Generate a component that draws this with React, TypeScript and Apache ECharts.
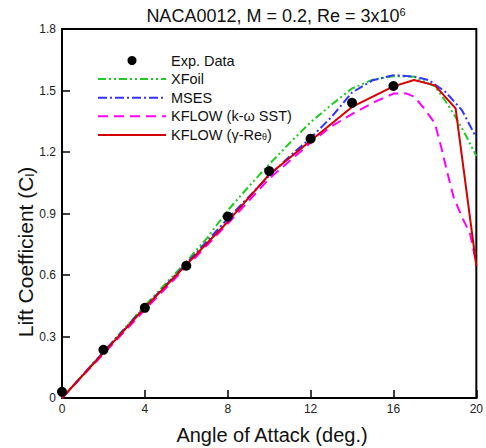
import React, { useEffect, useRef } from "react";
import * as echarts from "echarts";

const alphaExp = [0, 2, 4, 6, 8, 10, 12, 14, 16];
const clExp = [0.03, 0.235, 0.44, 0.645, 0.885, 1.107, 1.265, 1.44, 1.522];

const alphaXfoil = [0, 2, 4, 6, 7, 8, 9, 10, 11, 12, 13, 14, 15, 16, 17, 18, 18.5, 19, 19.5, 20];
const clXfoil = [0, 0.225, 0.45, 0.665, 0.78, 0.915, 1.03, 1.14, 1.245, 1.345, 1.43, 1.51, 1.553, 1.57, 1.567, 1.52, 1.45, 1.37, 1.28, 1.18];

const alphaMses = [0, 2, 4, 6, 8, 9, 10, 11, 12, 13, 14, 15, 16, 17, 17.7, 18.5, 19.3, 20];
const clMses = [0, 0.225, 0.445, 0.655, 0.875, 0.98, 1.085, 1.18, 1.268, 1.37, 1.49, 1.55, 1.575, 1.568, 1.551, 1.494, 1.405, 1.27];

const alphaSst = [0, 2, 4, 6, 8, 10, 12, 13, 14, 15, 16, 16.6, 17, 17.5, 18, 18.3, 18.6, 18.9, 19.3, 19.7, 20];
const clSst = [0, 0.215, 0.43, 0.64, 0.85, 1.07, 1.245, 1.325, 1.385, 1.44, 1.485, 1.486, 1.47, 1.41, 1.34, 1.226, 1.1, 0.98, 0.884, 0.8, 0.655];

const alphaGamma = [0, 2, 4, 6, 8, 10, 12, 14, 16, 17, 18, 19, 20];
const clGamma = [0, 0.22, 0.44, 0.65, 0.86, 1.09, 1.255, 1.42, 1.52, 1.551, 1.525, 1.413, 0.645];

const xTicks = ["0", "4", "8", "12", "16", "20"];
const yTicks = ["0", "0.3", "0.6", "0.9", "1.2", "1.5", "1.8"];

const seriesNames = ["Exp. Data", "XFoil", "MSES", "KFLOW (k-ω SST)", "KFLOW (γ-Reθ)"];

const zip = (a: number[], b: number[]) => a.map((v, i) => [v, b[i]]);

const FONT = "Liberation Sans, Arial, sans-serif";

export default function App() {
  const ref = useRef<HTMLDivElement>(null);
  useEffect(() => {
    document.body.style.margin = "0";
    if (!ref.current) return;
    const chart = echarts.init(ref.current, undefined, { renderer: "svg" });
    const lineBase = (name: string, data: number[][], color: string, type: any, width: number) => ({
      name,
      type: "line",
      data,
      showSymbol: false,
      symbol: "none",
      lineStyle: { color, type, width },
      itemStyle: { color },
      z: 2,
    });
    chart.setOption({
      animation: false,
      backgroundColor: "#fff",
      title: {
        text: "NACA0012, M = 0.2, Re = 3x10{sup|6}",
        left: 271,
        textAlign: "center",
        top: 1,
        textStyle: {
          fontFamily: FONT,
          fontSize: 18,
          fontWeight: "normal",
          color: "#111",
          rich: {
            sup: { fontSize: 11, fontFamily: FONT, color: "#111", padding: [0, 0, 9, 0] },
          },
        },
      },
      grid: {
        left: 62,
        right: 5,
        top: 29,
        bottom: 50,
        show: true,
        borderColor: "#000",
        borderWidth: 2,
      },
      legend: {
        orient: "vertical",
        left: 92,
        top: 48,
        itemWidth: 68,
        itemHeight: 9,
        itemGap: 3.6,
        data: seriesNames.map((n, i) =>
          i === 0 ? { name: n, itemStyle: { opacity: 1, color: "#000" } } : { name: n, itemStyle: { opacity: 0 } }
        ),
        textStyle: {
          fontFamily: FONT,
          fontSize: 14.5,
          color: "#111",
          lineHeight: 14,
          rich: {
            sub: { fontSize: 9, fontFamily: FONT, color: "#111", verticalAlign: "bottom", padding: [6, 0, 0, 0] },
          },
        },
        formatter: (n: string) => (n === "KFLOW (γ-Reθ)" ? "KFLOW (γ-Re{sub|θ})" : n),
      },
      xAxis: {
        type: "value",
        min: 0,
        max: 20,
        interval: 4,
        axisLine: { lineStyle: { color: "#000", width: 2 } },
        axisTick: { inside: true, length: 8, lineStyle: { color: "#000", width: 1.5 } },
        splitLine: { show: false },
        axisLabel: {
          fontFamily: FONT,
          fontSize: 12,
          color: "#222",
          margin: 5,
          formatter: (v: number) => xTicks[Math.round(v / 4)] ?? "",
        },
      },
      yAxis: {
        type: "value",
        min: 0,
        max: 1.8,
        interval: 0.3,
        axisLine: { lineStyle: { color: "#000", width: 2 } },
        axisTick: { inside: true, length: 8, lineStyle: { color: "#000", width: 1.5 } },
        splitLine: { show: false },
        axisLabel: {
          fontFamily: FONT,
          fontSize: 12,
          color: "#222",
          margin: 6,
          formatter: (v: number) => yTicks[Math.round(v / 0.3)] ?? "",
        },
      },
      graphic: [
        {
          type: "text",
          x: 272,
          y: 435,
          style: {
            text: "Angle of Attack (deg.)",
            font: "20px Liberation Sans, Arial, sans-serif",
            fill: "#111",
            align: "center",
            verticalAlign: "middle",
          },
        },
        {
          type: "text",
          x: 25,
          y: 252,
          rotation: Math.PI / 2,
          style: {
            text: "Lift Coefficient (C{sub|l})",
            font: "21px Liberation Sans, Arial, sans-serif",
            fill: "#111",
            align: "center",
            verticalAlign: "middle",
            rich: {
              sub: { font: "13px Liberation Sans, Arial, sans-serif", fill: "#111", padding: [9, 0, 0, 0] },
            },
          },
        },
      ],
      series: [
        lineBase(seriesNames[1], zip(alphaXfoil, clXfoil), "#1fcc1f", [8, 3, 2, 3, 2, 3], 2),
        lineBase(seriesNames[2], zip(alphaMses, clMses), "#3333ff", [9, 3, 2, 3], 2),
        lineBase(seriesNames[3], zip(alphaSst, clSst), "#ff00ff", [10, 6], 2),
        lineBase(seriesNames[4], zip(alphaGamma, clGamma), "#d40000", "solid", 2),
        {
          name: seriesNames[0],
          type: "scatter",
          data: zip(alphaExp, clExp),
          symbol: "circle",
          symbolSize: 10,
          itemStyle: { color: "#000", opacity: 1 },
          z: 5,
        },
      ],
    });
    return () => chart.dispose();
  }, []);
  return <div ref={ref} style={{ width: 486, height: 448 }} />;
}
